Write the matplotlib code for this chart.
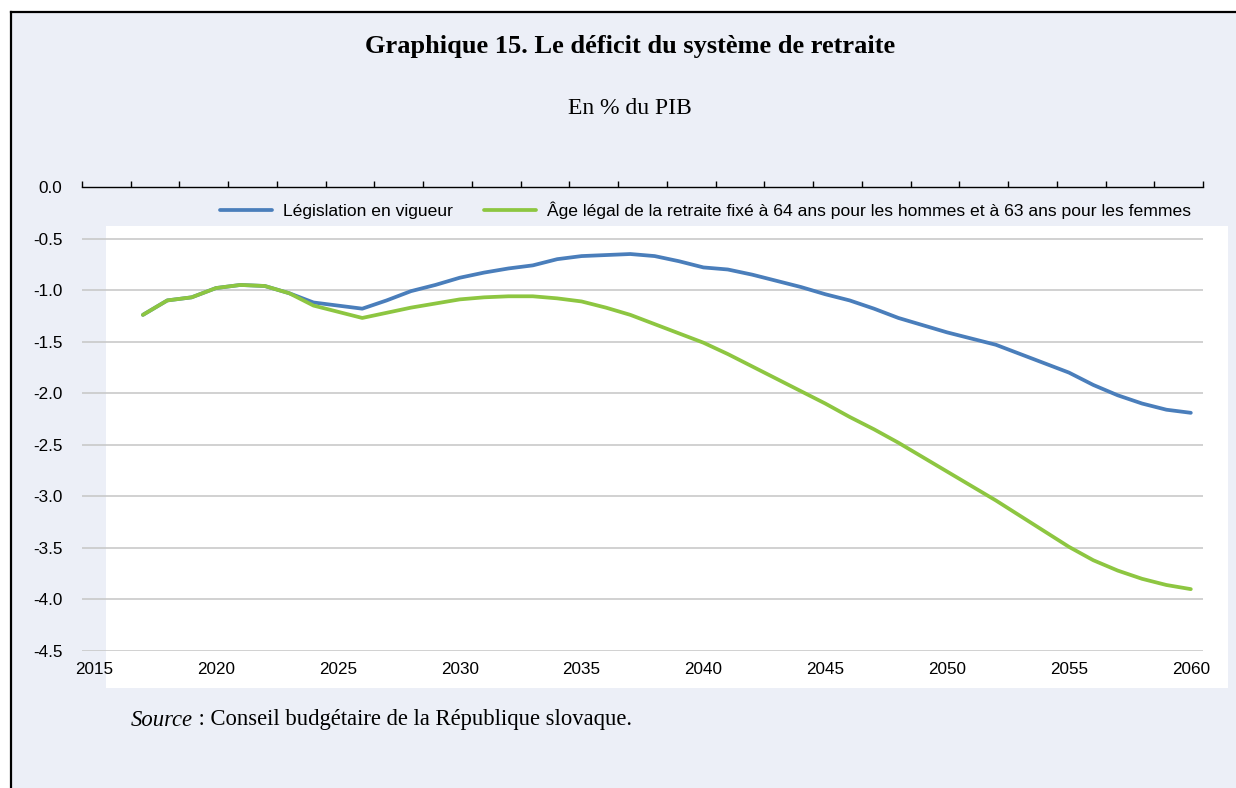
import numpy as np
import matplotlib
matplotlib.use("Agg")
import matplotlib.pyplot as plt
from matplotlib.patches import Rectangle
from matplotlib.lines import Line2D

plt.rcParams['axes.unicode_minus'] = False

# ---- data ----
years = list(range(2017, 2061))
legislation = [-1.24, -1.10, -1.07, -0.98, -0.95, -0.96, -1.03, -1.12, -1.15, -1.18,
               -1.10, -1.01, -0.95, -0.88, -0.83, -0.79, -0.76, -0.70, -0.67, -0.66,
               -0.65, -0.67, -0.72, -0.78, -0.80, -0.85, -0.91, -0.97, -1.04, -1.10,
               -1.18, -1.27, -1.34, -1.41, -1.47, -1.53, -1.62, -1.71, -1.80, -1.92,
               -2.02, -2.10, -2.16, -2.19]
age_legal = [-1.24, -1.10, -1.07, -0.98, -0.95, -0.96, -1.03, -1.15, -1.21, -1.27,
             -1.22, -1.17, -1.13, -1.09, -1.07, -1.06, -1.06, -1.08, -1.11, -1.17,
             -1.24, -1.33, -1.42, -1.51, -1.62, -1.74, -1.86, -1.98, -2.10, -2.23,
             -2.35, -2.48, -2.62, -2.76, -2.90, -3.04, -3.19, -3.34, -3.49, -3.62,
             -3.72, -3.80, -3.86, -3.90]
series_labels = ["Législation en vigueur",
                 "Âge légal de la retraite fixé à 64 ans pour les hommes et à 63 ans pour les femmes"]
xtick_years = list(range(2015, 2061, 5))
ytick_values = [0.0, -0.5, -1.0, -1.5, -2.0, -2.5, -3.0, -3.5, -4.0, -4.5]

title = "Graphique 15. Le déficit du système de retraite"
subtitle = "En % du PIB"

# ---- layout ----
W, H = 1236, 788
fig = plt.figure(figsize=(W / 100, H / 100), dpi=100, facecolor='white')

def fx(px):
    return px / W

def fy(py):
    return 1 - py / H

BG = '#ECEFF7'
BLUE = '#4A7EBB'
GREEN = '#8DC641'

# outer panel
fig.patches.append(Rectangle((fx(11), 0), 1 - fx(11), fy(12), transform=fig.transFigure,
                             facecolor=BG, edgecolor='none', zorder=0))
fig.add_artist(Line2D([fx(11), 1], [fy(12), fy(12)], transform=fig.transFigure,
                      color='black', lw=1.6, zorder=1))
fig.add_artist(Line2D([fx(11), fx(11)], [0, fy(12)], transform=fig.transFigure,
                      color='black', lw=1.6, zorder=1))
# white plot area
fig.patches.append(Rectangle((fx(106), fy(688)), fx(1228) - fx(106), fy(226) - fy(688),
                             transform=fig.transFigure, facecolor='white',
                             edgecolor='none', zorder=0.5))

ax = fig.add_axes([fx(82), fy(651), fx(1203) - fx(82), fy(187) - fy(651)])
ax.set_facecolor('none')
ax.set_zorder(2)

l1, = ax.plot(years, legislation, color=BLUE, lw=2.7, solid_capstyle='round', zorder=3)
l2, = ax.plot(years, age_legal, color=GREEN, lw=2.7, solid_capstyle='round', zorder=4)

ax.set_xlim(2014.5, 2060.5)
ax.set_ylim(-4.5, 0.0)

for s in ['left', 'right', 'bottom']:
    ax.spines[s].set_visible(False)
ax.spines['top'].set_color('black')
ax.spines['top'].set_linewidth(1.0)

ax.set_xticks(xtick_years)
ax.set_xticklabels([str(y) for y in xtick_years])
ax.set_xticks(np.arange(2014.5, 2061, 2), minor=True)
ax.tick_params(axis='x', which='major', bottom=True, top=False, length=0, pad=8,
               labelsize=12.3)
ax.tick_params(axis='x', which='minor', bottom=False, top=True, direction='out',
               length=4.5, width=1.0, color='black')

ax.set_yticks(ytick_values)
ax.set_yticklabels([f"{v:.1f}" for v in ytick_values])
ax.tick_params(axis='y', length=0, pad=14, labelsize=12.3)
for lab in ax.get_xticklabels() + ax.get_yticklabels():
    lab.set_fontfamily('Liberation Sans')

ax.yaxis.grid(True, color='#C9C9C9', lw=1.2)
ax.set_axisbelow(True)

leg = fig.legend([l1, l2], series_labels, loc='center', ncol=2,
                 bbox_to_anchor=(fx(705.5), fy(210)), frameon=False,
                 handlelength=3.0, handletextpad=0.62, columnspacing=1.77,
                 borderpad=0, prop={'family': 'Liberation Sans', 'size': 12.6})

fig.text(fx(630), fy(47), title, ha='center', va='center', fontsize=19,
         fontweight='bold', family='Liberation Serif')
fig.text(fx(630), fy(108), subtitle, ha='center', va='center', fontsize=17,
         family='Liberation Serif')
t1 = fig.text(fx(131), fy(720), "Source", ha='left', va='center', fontsize=16.3,
              style='italic', family='Liberation Serif')
fig.canvas.draw()
bb = t1.get_window_extent()
fig.text(bb.x1 / W, fy(720), " : Conseil budgétaire de la République slovaque.",
         ha='left', va='center', fontsize=16.3, family='Liberation Serif')

fig.savefig('out.png', dpi=100, facecolor=fig.get_facecolor())
